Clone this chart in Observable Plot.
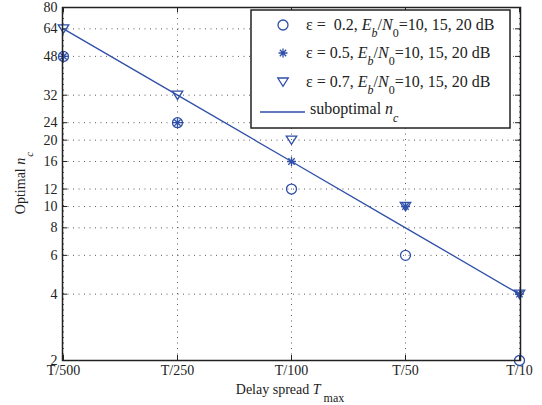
<!DOCTYPE html>
<html><head><meta charset="utf-8">
<script src="https://cdn.jsdelivr.net/npm/d3@7"></script>
<script src="https://cdn.jsdelivr.net/npm/@observablehq/plot@0.6"></script>
<style>body{margin:0;background:#fff;} svg{display:block;}</style>
</head><body><div id="chart"></div>
<script>
// ---- data ----
const categories = ["T/500", "T/250", "T/100", "T/50", "T/10"];
const eps02 = [48, 24, 12, 6, 2];
const eps05 = [48, 24, 16, 10, 4];
const eps07 = [64, 32, 20, 10, 4];
const subopt = [64, 32, 16, 8, 4];
const yTicks = [2, 4, 6, 8, 10, 12, 16, 20, 24, 32, 48, 64, 80];
const legendLabels = ["0.2", "0.5", "0.7"];

// ---- styling ----
const blue = "#2f4fa8";
const font = "'Liberation Serif', 'Times New Roman', serif";
const W = 542, H = 405, mL = 62, mR = 22, mT = 7, mB = 45;
const pw = W - mL - mR, ph = H - mT - mB;

const triangleDown = {draw(ctx, size) {
  const r = Math.sqrt(size / Math.PI);
  ctx.moveTo(-r * 1.05, -r * 0.8); ctx.lineTo(r * 1.05, -r * 0.8); ctx.lineTo(0, r * 0.85); ctx.closePath();
}};
const asterisk8 = {draw(ctx, size) {
  const r = Math.sqrt(size / Math.PI), d = r * Math.SQRT1_2;
  ctx.moveTo(-r, 0); ctx.lineTo(r, 0); ctx.moveTo(0, -r); ctx.lineTo(0, r);
  ctx.moveTo(-d, -d); ctx.lineTo(d, d); ctx.moveTo(-d, d); ctx.lineTo(d, -d);
}};
const rows = vals => categories.map((c, i) => ({x: c, y: vals[i]}));
const grid = {stroke: "#333", strokeOpacity: 0.8, strokeDasharray: "1,4.5", strokeWidth: 1};

const plot = Plot.plot({
  width: W, height: H,
  marginLeft: mL, marginRight: mR, marginTop: mT, marginBottom: mB,
  style: {fontFamily: font, fontSize: "14px", color: "#222", background: "#fff"},
  x: {type: "point", domain: categories, padding: 0, label: null, axis: null},
  y: {type: "log", domain: [2, 80], label: null, axis: null},
  marks: [
    Plot.gridY(yTicks, grid),
    Plot.gridX(categories, grid),
    Plot.tickY(yTicks, {y: d => d, insetRight: pw - 5, stroke: "#222"}),
    Plot.tickY(yTicks, {y: d => d, insetLeft: pw - 5, stroke: "#222"}),
    Plot.tickX(categories, {x: d => d, insetTop: ph - 5, stroke: "#222"}),
    Plot.tickX(categories, {x: d => d, insetBottom: ph - 5, stroke: "#222"}),
    Plot.text(yTicks, {y: d => d, text: d => String(d), frameAnchor: "left", textAnchor: "end", dx: -5, fontSize: 14, fill: "#222"}),
    Plot.text(categories, {x: d => d, text: d => d, frameAnchor: "bottom", lineAnchor: "top", dy: 5, fontSize: 14, fill: "#222"}),
    Plot.line(rows(subopt), {x: "x", y: "y", stroke: blue, strokeWidth: 1.3}),
    Plot.dot(rows(eps02), {x: "x", y: "y", r: 5, symbol: "circle", stroke: blue, fill: "none", strokeWidth: 1.3}),
    Plot.dot(rows(eps05), {x: "x", y: "y", r: 4.5, symbol: asterisk8, stroke: blue, fill: "none", strokeWidth: 1.3}),
    Plot.dot(rows(eps07), {x: "x", y: "y", r: 5, symbol: triangleDown, stroke: blue, fill: "none", strokeWidth: 1.3}),
    Plot.frame({stroke: "#222", strokeWidth: 1.5})
  ]
});
document.getElementById("chart").appendChild(plot);

const svg = d3.select(plot);
// Legend
const lg = svg.append("g").attr("font-family", font).attr("font-size", 16).attr("fill", "#222").attr("text-anchor", "start");
lg.append("rect").attr("x", 251).attr("y", 10).attr("width", 259).attr("height", 118)
  .attr("fill", "#fff").attr("stroke", "#222").attr("stroke-width", 1.5);
const symbols = [d3.symbolCircle, asterisk8, triangleDown];
const rowY = [25, 53, 82];
symbols.forEach((s, i) => {
  lg.append("path").attr("transform", `translate(283,${rowY[i]})`)
    .attr("d", d3.symbol(s, (i === 1 ? 4.5 : 5) ** 2 * Math.PI)())
    .attr("fill", "none").attr("stroke", blue).attr("stroke-width", 1.3);
  const t = lg.append("text").attr("x", 306).attr("y", rowY[i] + 5).attr("text-anchor", "start");
  t.append("tspan").text(i === 0 ? "ε =  " + legendLabels[i] + ", " : "ε = " + legendLabels[i] + ", ");
  t.append("tspan").attr("font-style", "italic").text("E");
  t.append("tspan").attr("font-size", 12).attr("font-style", "italic").attr("dy", 7).text("b");
  t.append("tspan").attr("dy", -7).text("/");
  t.append("tspan").attr("font-style", "italic").text("N");
  t.append("tspan").attr("font-size", 12).attr("dy", 7).text("0");
  t.append("tspan").attr("dy", -7).text("=10, 15, 20 dB");
});
lg.append("line").attr("x1", 260).attr("x2", 305).attr("y1", 112).attr("y2", 112)
  .attr("stroke", blue).attr("stroke-width", 1.3);
const ts = lg.append("text").attr("x", 310).attr("y", 114).attr("text-anchor", "start");
ts.append("tspan").text("suboptimal ");
ts.append("tspan").attr("font-style", "italic").text("n");
ts.append("tspan").attr("font-size", 12).attr("dy", 8).attr("font-style", "italic").text("c");

// Axis labels
const xl = svg.append("text").attr("x", 290).attr("y", 394).attr("text-anchor", "middle")
  .attr("font-family", font).attr("font-size", 14).attr("fill", "#222");
xl.append("tspan").text("Delay spread ");
xl.append("tspan").attr("font-style", "italic").text("T");
xl.append("tspan").attr("font-size", 12).attr("dx", 3).attr("dy", 8).text("max");

const yl = svg.append("text").attr("transform", "translate(25,183) rotate(-90)").attr("text-anchor", "middle")
  .attr("font-family", font).attr("font-size", 14).attr("fill", "#222");
yl.append("tspan").text("Optimal ");
yl.append("tspan").attr("font-style", "italic").text("n");
yl.append("tspan").attr("font-size", 11).attr("dx", 1).attr("dy", 8).attr("font-style", "italic").text("c");
</script>
</body></html>
